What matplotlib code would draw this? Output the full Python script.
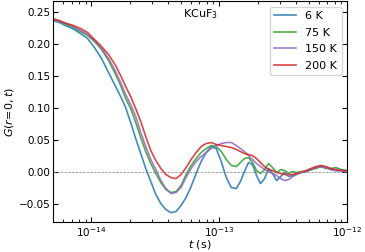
import numpy as np
import matplotlib
matplotlib.use("Agg")
from matplotlib import pyplot as plt

# time grid (fs) and G(r=0,t) for each temperature
t_fs = [4.931, 5.598, 6.356, 7.215, 8.192, 9.301, 10.56, 11.99, 13.61, 15.45,
        16.92, 18.52, 20.28, 22.21, 24.31, 26.62, 29.14, 31.91, 34.94, 38.25,
        41.88, 45.86, 50.21, 54.97, 60.19, 65.90, 72.15, 79.00, 86.50, 94.71,
        103.7, 113.5, 124.3, 136.1, 146.3, 157.4, 169.2, 181.9, 195.6, 210.3,
        226.1, 243.1, 261.4, 281.1, 302.2, 324.9, 349.4, 375.7, 403.9, 434.3,
        475.5, 520.6, 570.0, 624.2, 683.3, 748.2, 819.2, 897.0, 1000.0]

G_6K = [0.2367, 0.2336, 0.2281, 0.2234, 0.2164, 0.2086, 0.1945, 0.1773, 0.1555, 0.1336,
        0.1180, 0.1008, 0.0773, 0.0523, 0.0289, 0.0055, -0.0148, -0.0352, -0.0492, -0.0586,
        -0.0633, -0.0617, -0.0523, -0.0398, -0.0227, -0.0023, 0.0164, 0.0305, 0.0398, 0.0367,
        0.0164, -0.0086, -0.0242, -0.0258, -0.0148, 0.0008, 0.0148, 0.0117, -0.0055, -0.0180,
        -0.0102, 0.0055, -0.0023, -0.0133, -0.0070, -0.0008, -0.0070, -0.0055, -0.0023, -0.0008,
        0.0008, 0.0039, 0.0070, 0.0086, 0.0070, 0.0039, 0.0023, 0.0023, 0.0008]

G_75K = [0.2383, 0.2352, 0.2305, 0.2258, 0.2195, 0.2133, 0.2039, 0.1914, 0.1742, 0.1523,
         0.1352, 0.1148, 0.0992, 0.0773, 0.0539, 0.0320, 0.0133, -0.0023, -0.0164, -0.0273,
         -0.0320, -0.0305, -0.0211, -0.0039, 0.0102, 0.0211, 0.0305, 0.0367, 0.0414, 0.0398,
         0.0320, 0.0195, 0.0102, 0.0086, 0.0148, 0.0211, 0.0227, 0.0148, 0.0023, -0.0023,
         0.0039, 0.0133, 0.0070, -0.0008, 0.0039, 0.0023, -0.0023, 0.0008, -0.0008, 0.0008,
         0.0008, 0.0039, 0.0055, 0.0086, 0.0055, 0.0055, 0.0070, 0.0039, 0.0023]

G_150K = [0.2383, 0.2352, 0.2320, 0.2273, 0.2211, 0.2148, 0.2055, 0.1930, 0.1773, 0.1570,
          0.1398, 0.1211, 0.1055, 0.0867, 0.0617, 0.0398, 0.0195, 0.0039, -0.0133, -0.0258,
          -0.0336, -0.0320, -0.0242, -0.0086, 0.0055, 0.0164, 0.0242, 0.0305, 0.0367, 0.0414,
          0.0445, 0.0461, 0.0461, 0.0414, 0.0367, 0.0320, 0.0258, 0.0195, 0.0133, 0.0086,
          0.0039, 0.0008, -0.0023, -0.0055, -0.0102, -0.0133, -0.0117, -0.0070, -0.0039, -0.0008,
          0.0008, 0.0039, 0.0070, 0.0086, 0.0070, 0.0039, 0.0023, 0.0023, 0.0008]

G_200K = [0.2398, 0.2367, 0.2320, 0.2289, 0.2242, 0.2180, 0.2070, 0.1961, 0.1836, 0.1664,
          0.1508, 0.1336, 0.1180, 0.0992, 0.0789, 0.0555, 0.0336, 0.0180, 0.0055, -0.0039,
          -0.0086, -0.0102, -0.0039, 0.0070, 0.0195, 0.0305, 0.0398, 0.0445, 0.0461, 0.0430,
          0.0414, 0.0398, 0.0383, 0.0352, 0.0320, 0.0289, 0.0273, 0.0258, 0.0211, 0.0148,
          0.0086, 0.0039, 0.0023, -0.0008, -0.0023, -0.0039, -0.0039, -0.0039, -0.0023, -0.0008,
          0.0023, 0.0055, 0.0086, 0.0102, 0.0086, 0.0055, 0.0039, 0.0023, 0.0023]

labels = ["6 K", "75 K", "150 K", "200 K"]
colors = ["tab:blue", "tab:green", "tab:purple", "tab:red"]

t = np.array(t_fs) * 1e-15

fig = plt.figure(figsize=(3.65, 2.52), dpi=100)
ax = fig.add_axes([0.145, 0.119, 0.806, 0.877])

for G, lab, c in zip([G_6K, G_75K, G_150K, G_200K], labels, colors):
    ax.plot(t, G, color=c, lw=1.2, alpha=0.85, label=lab)

ax.axhline(0, color="gray", ls="--", lw=0.5)
ax.set_xscale("log")
ax.set_xticks([1e-14, 1e-13, 1e-12])
ax.set_xlim(5e-15, 1e-12)
ax.set_ylim(-0.078, 0.267)
ax.set_yticks([-0.05, 0.0, 0.05, 0.10, 0.15, 0.20, 0.25])
ax.tick_params(which="both", direction="in", top=True, right=True,
               labelsize=7.5, pad=2)
ax.set_xlabel(r"$t$ (s)", fontsize=8, labelpad=-0.5)
ax.set_ylabel(r"$G(r\!=\!0,t)$", fontsize=8, labelpad=1.5)
ax.text(0.442, 0.94, r"KCuF$_3$", transform=ax.transAxes, fontsize=8,
        ha="left", va="center")
ax.legend(loc="upper right", fontsize=8, labelspacing=0.6)

fig.savefig("out.png", dpi=100)
